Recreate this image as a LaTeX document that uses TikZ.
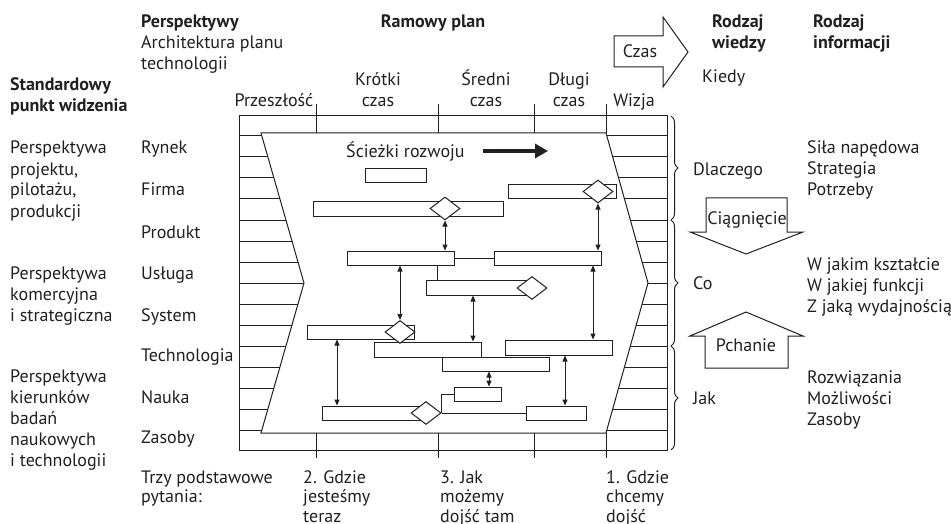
\documentclass[tikz,border=0pt]{standalone}
\usepackage{fontspec}
\setmainfont{PT Sans}
\usetikzlibrary{arrows.meta,decorations.pathreplacing,shapes.geometric}
\definecolor{ink}{RGB}{35,31,32}
\begin{document}
\begin{tikzpicture}[x=1pt,y=-1pt,
  ln/.style={draw=ink,line width=1pt},
  thickln/.style={draw=ink,line width=2.2pt},
  dsh/.style={draw=ink,line width=1pt,dash pattern=on 4pt off 3pt},
  bar/.style={draw=ink,line width=1pt,fill=white,inner sep=0pt,minimum height=14pt},
  dia/.style={diamond,draw=ink,line width=1pt,fill=white,inner sep=0pt,minimum width=30pt,minimum height=23pt},
  dbl/.style={draw=ink,line width=1pt,{Triangle[length=6pt,width=5pt]}-{Triangle[length=6pt,width=5pt]}},
  txt/.style={font=\fontsize{18}{21}\selectfont,inner sep=0pt,text=ink,align=left},
  btxt/.style={txt,font=\fontsize{18}{21}\selectfont\bfseries},
  ltxt/.style={txt,font=\fontsize{18}{19.5}\selectfont},
  blk/.style={draw=ink,line width=1pt,fill=white}]
\useasboundingbox (0,0) rectangle (951,524);
\fill[white] (0,0) rectangle (951,524);

% ---- grid frame ----
\draw[ln] (239,116) rectangle (667,450);
\draw[ln] (261,133) -- (606,133) -- (648,283) -- (606,433) -- (261,433) -- (304,283) -- cycle;
\foreach \y/\k in {136/s,157/s,178/d,199/s,220/t,241/s,262/d,283/s,304/d,325/s,346/t,367/s,388/d,409/d,430/s}{
  \pgfmathsetmacro\f{1-abs(\y-283)/150}
  \pgfmathsetmacro\xl{261+43*\f}
  \pgfmathsetmacro\xr{606+42*\f}
  \ifx\k d
    \draw[dsh] (239,\y) -- (\xl,\y);
    \draw[dsh] (\xr,\y) -- (667,\y);
  \else\ifx\k t
    \draw[thickln] (239,\y) -- (\xl,\y);
    \draw[thickln] (\xr,\y) -- (667,\y);
  \else
    \draw[ln] (239,\y) -- (\xl,\y);
    \draw[ln] (\xr,\y) -- (667,\y);
  \fi\fi
}
\foreach \x in {316,438,534,606}{
  \draw[ln] (\x,104) -- (\x,133);
  \draw[ln] (\x,433) -- (\x,458);
}

% ---- braces ----
\draw[ln,decorate,decoration={brace,amplitude=7pt}] (671,116) -- (671,220);
\draw[ln,decorate,decoration={brace,amplitude=7pt}] (671,220) -- (671,346);
\draw[ln,decorate,decoration={brace,amplitude=7pt}] (671,346) -- (671,450);

% ---- bars ----
\node[bar,minimum width=61pt]  (A) at (395.5,176) {};
\node[bar,minimum width=190pt] (B) at (408,209) {};
\node[bar,minimum width=107pt] (C) at (400.5,258) {};
\node[bar,minimum width=107pt] (D) at (547.5,258) {};
\node[bar,minimum width=108pt] (E) at (562,192) {};
\node[bar,minimum width=99pt,minimum height=15pt]  (F) at (475.5,287.5) {};
\node[bar,minimum width=107pt] (G) at (360.5,332) {};
\node[bar,minimum width=107pt,minimum height=15pt] (H) at (427.5,349.5) {};
\node[bar,minimum width=107pt,minimum height=15pt] (I) at (558.5,347.5) {};
\node[bar,minimum width=107pt] (J) at (495.5,364) {};
\node[bar,minimum width=47pt]  (K) at (477.5,394) {};
\node[bar,minimum width=98pt]  (L) at (371,413) {};
\node[bar,minimum width=60pt]  (M) at (556,413) {};
\node[dia] (dB) at (445,208.5) {};
\node[dia] (dE) at (598,191.5) {};
\node[dia] (dF) at (532,288) {};
\node[dia] (dG) at (400,332) {};
\node[dia] (dL) at (426,413) {};

% ---- connectors ----
\draw[dbl] (dB.south) -- (dB.south |- C.north);
\draw[dbl] (dE.south) -- (dE.south |- D.north);
\draw[ln] (C.east) -- (D.west);
\draw[ln] (437,0 |- C.south) -- (437,0 |- F.north);
\draw[dbl] (400,0 |- C.south) -- (dG.north);
\draw[dbl] (593,0 |- D.south) -- (593,0 |- I.north);
\draw[dbl] (473,0 |- F.south) -- (473,0 |- H.north);
\draw[dbl] (337,0 |- G.south) -- (337,0 |- L.north);
\draw[dbl] (489,0 |- J.south) -- (489,0 |- K.north);
\draw[dbl] (565,0 |- I.south) -- (565,0 |- M.north);
\draw[ln] (dL.east) -- (M.west);
\draw[ln] (dL.east) |- (K.west);

% ---- development path ----
\node[txt,anchor=base west] (sciezki) at (346,158) {Ścieżki rozwoju};
\coordinate (pa) at (483,151);
\coordinate (pb) at (548,151);
\draw[draw=ink,line width=4pt,-{Triangle[length=13pt,width=14pt]}] (pa) -- (pb);

% ---- block arrows ----
\draw[blk] (614,36) -- (663,36) -- (663,17) -- (688,52) -- (663,87) -- (663,67) -- (614,67) -- cycle;
\node[txt,anchor=base] (czas) at (640,58) {Czas};
\draw[blk] (706,198) -- (787,198) -- (787,232) -- (803,232) -- (746,254) -- (690,232) -- (706,232) -- cycle;
\node[txt,anchor=base] (ciag) at (747,224) {Ciągnięcie};
\draw[blk] (705,368) -- (788,368) -- (788,336) -- (803,336) -- (746,312) -- (690,336) -- (705,336) -- cycle;
\node[txt,anchor=base] (pch) at (746,351) {Pchanie};

% ---- headers (base = last line) ----
\node[btxt,anchor=base west] (persp) at (141,28) {Perspektywy};
\node[txt,anchor=base west] (arch) at (141,70) {Architektura planu\\technologii};
\node[btxt,anchor=base] (ramowy) at (433,28) {Ramowy plan};
\node[btxt,anchor=base west] (rw) at (712,49) {Rodzaj\\wiedzy};
\node[btxt,anchor=base west] (ri) at (813,49) {Rodzaj\\informacji};
\node[txt,anchor=base west] (kiedy) at (702,83) {Kiedy};
\node[txt,anchor=base] (przesz) at (274,107) {Przeszłość};
\node[txt,anchor=base,align=center] (krotki) at (378,107) {Krótki\\czas};
\node[txt,anchor=base,align=center] (sredni) at (486,107) {Średni\\czas};
\node[txt,anchor=base,align=center] (dlugi) at (569,107) {Długi\\czas};
\node[txt,anchor=base] (wizja) at (634,107) {Wizja};

% ---- left column ----
\node[btxt,anchor=base west] (std) at (10,112) {Standardowy\\punkt widzenia};
\node[txt,anchor=base west] (p1) at (10,217) {Perspektywa\\projektu,\\pilotażu,\\produkcji};
\node[txt,anchor=base west] (p2) at (10,321) {Perspektywa\\komercyjna\\i strategiczna};
\node[txt,anchor=base west] (p3) at (10,466) {Perspektywa\\kierunków\\badań\\naukowych\\i technologii};
\node[txt,anchor=base west] (rynek) at (141,154) {Rynek};
\node[txt,anchor=base west] (firma) at (141,196) {Firma};
\node[txt,anchor=base west] (produkt) at (141,238) {Produkt};
\node[txt,anchor=base west] (usluga) at (141,279) {Usługa};
\node[txt,anchor=base west] (system) at (141,321) {System};
\node[txt,anchor=base west] (techn) at (141,361) {Technologia};
\node[txt,anchor=base west] (nauka) at (141,403) {Nauka};
\node[txt,anchor=base west] (zasoby) at (141,443) {Zasoby};

% ---- bottom ----
\node[ltxt,anchor=base west] (trzy) at (141,502.5) {Trzy podstawowe\\pytania:};
\node[ltxt,anchor=base west] (q2) at (303,522) {2. Gdzie\\jesteśmy\\teraz};
\node[ltxt,anchor=base west] (q3) at (440,522) {3. Jak\\możemy\\dojść tam};
\node[ltxt,anchor=base west] (q1) at (606,522) {1. Gdzie\\chcemy\\dojść};

% ---- right column ----
\node[txt,anchor=base west] (dlaczego) at (693,176) {Dlaczego};
\node[txt,anchor=base west] (co) at (693,289) {Co};
\node[txt,anchor=base west] (jak) at (693,404) {Jak};
\node[txt,anchor=base west] (r1) at (807,196) {Siła napędowa\\Strategia\\Potrzeby};
\node[txt,anchor=base west] (r2) at (807,312) {W jakim kształcie\\W jakiej funkcji\\Z jaką wydajnością};
\node[txt,anchor=base west] (r3) at (807,425) {Rozwiązania\\Możliwości\\Zasoby};
\end{tikzpicture}
\end{document}
